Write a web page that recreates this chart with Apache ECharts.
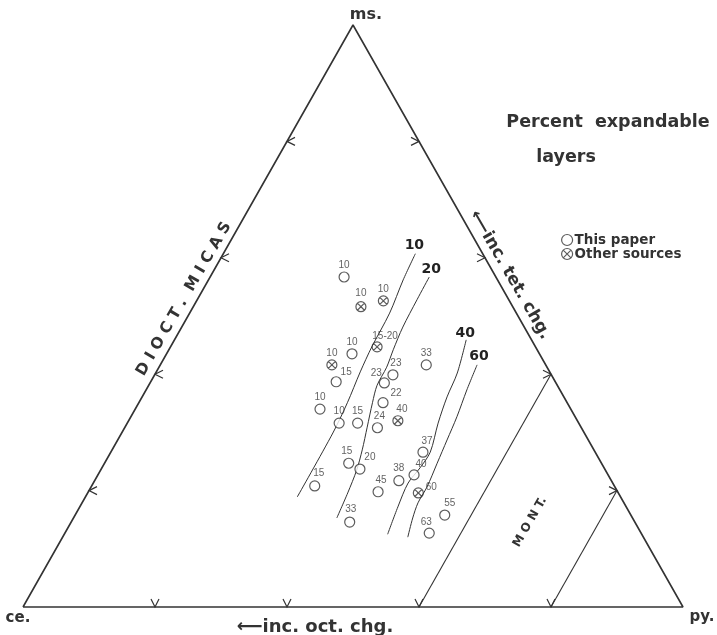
<!DOCTYPE html>
<html>
<head>
<meta charset="utf-8">
<script src="https://cdn.jsdelivr.net/npm/echarts@6/dist/echarts.min.js"></script>
<style>
html,body{margin:0;padding:0;background:#fff;}
#chart{width:717px;height:635px;}
</style>
</head>
<body>
<div id="chart"></div>
<script>
// all compositions are ternary percents [ms, ce, py]
const vertices = [[0,100,0],[0,0,100],[100,0,0],[0,100,0]];
const sideTicks = [20,40,60,80];
const montLine60 = [[0,40,60],[40,0,60]];
const montLine80 = [[0,20,80],[20,0,80]];

// percent expandable layers contours, top -> bottom
const contourNames = ['10','20','40','60'];
const contour10 = [[60.7,10.2,29.1],[56.2,14.3,29.5],[50.5,19.2,30.3],[44.7,24.8,30.5],[40.4,28.7,30.9],[35.1,33.4,31.6],[29.9,38.1,32.0],[18.9,49.0,32.1]];
const contour20 = [[56.7,10.1,33.2],[52.8,13.9,33.3],[48.1,18.4,33.5],[44.2,21.8,34.0],[41.2,24.3,34.5],[38.1,27.3,34.6],[35.1,29.6,35.4],[30.9,32.4,36.7],[27.0,35.1,37.9],[23.5,37.7,38.8],[19.6,41.0,39.4],[15.3,44.8,39.9]];
const contour40 = [[45.9,9.9,44.2],[40.2,14.1,45.7],[36.1,17.7,46.2],[31.6,21.3,47.1],[26.6,25.0,48.4],[23.9,27.9,48.2],[21.3,31.0,47.7],[17.2,34.6,48.2],[12.5,38.5,49.0]];
const contour60 = [[41.6,10.4,48.0],[37.3,14.1,48.6],[32.7,17.9,49.4],[28.7,21.4,49.9],[24.7,24.9,50.4],[20.6,28.5,50.9],[17.9,31.2,50.9],[15.3,33.3,51.4],[12.0,35.7,52.3]];

// samples, this paper
const thisPaper = [[56.7,23.0,20.3],[43.5,28.4,28.1],[38.7,33.2,28.1],[39.9,24.0,36.1],[38.5,26.0,35.5],[41.6,18.1,40.3],[34.0,38.0,28.0],[31.6,36.3,32.1],[31.6,33.5,34.9],[35.1,27.9,37.0],[30.8,30.9,38.3],[26.6,26.1,47.3],[24.7,38.3,37.0],[23.7,37.1,39.2],[20.8,45.4,33.8],[19.8,36.3,43.9],[21.7,32.2,46.1],[22.7,29.4,47.9],[15.8,28.2,56.0],[14.6,43.2,42.2],[12.7,32.1,55.2]];
const thisPaperPct = ['10','10','15','23','23','33','10','10','15','22','24','37','15','20','15','45','38','40','55','33','63'];
// samples, other sources
const otherSources = [[51.6,23.0,25.4],[52.6,19.1,28.3],[44.7,24.0,31.3],[41.6,32.4,26.0],[32.0,27.2,40.8],[19.6,30.3,50.1]];
const otherSourcesPct = ['10','10','15-20','10','40','60'];

// label offsets (px)
const thisPaperLabelOffset = {2:[10,-10],3:[3,-12],4:[-8,-10],9:[13,-9],10:[2,-11],11:[4,-11],12:[-2,-12],13:[10,-12],14:[4,-13],15:[3,-12],17:[7,-11],18:[5,-12],19:[1,-13],20:[-3,-11]};
const otherLabelOffset = [[0,-13],[0,-12],[8,-11],[0,-12],[4,-12],[13,-6]];
const contourLabelOffset = [[-1,0],[2,0],[-1,1],[2,-1]];

const ink = '#333';
const toXY = p => [p[2] + p[0] / 2, p[0]];

let chartObj = echarts.init(document.getElementById('chart'));

let tickData = [];
sideTicks.forEach(t => {
	tickData.push(toXY([0, 100 - t, t]).concat(0));	// base, ce-py
	tickData.push(toXY([t, 100 - t, 0]).concat(1));	// left, ce-ms
	tickData.push(toXY([t, 0, 100 - t]).concat(2));	// right, ms-py
});

function lineSeries(name, pts, width, smooth){
	return {
		name: name,
		type: 'line',
		data: pts.map(toXY),
		symbol: 'none',
		smooth: smooth || false,
		silent: true,
		clip: false,
		lineStyle: { color: ink, width: width },
		z: 2
	};
}

const contours = [contour10, contour20, contour40, contour60];
let seriesData = [
	lineSeries('frame', vertices, 1.6),
	lineSeries('mont60', montLine60, 1.1),
	lineSeries('mont80', montLine80, 1.1),
	{
		type: 'custom',
		silent: true,
		clip: false,
		data: tickData,
		renderItem: function(params, api){
			const p = api.coord([api.value(0), api.value(1)]);
			const d = api.value(2);
			let pts;
			if (d === 0) pts = [[p[0]-4, p[1]-8], p, [p[0]+4, p[1]-8]];
			else if (d === 1) pts = [[p[0]+8, p[1]-4], p, [p[0]+8, p[1]+4]];
			else pts = [[p[0]-8, p[1]-4], p, [p[0]-8, p[1]+4]];
			return { type: 'polyline', shape: { points: pts }, style: { stroke: ink, lineWidth: 1.2, fill: null } };
		}
	}
];
contours.forEach((c, i) => {
	seriesData.push(lineSeries('c' + contourNames[i], c, 1, 0.3));
});
seriesData.push({
	type: 'scatter',
	silent: true,
	symbolSize: 0,
	itemStyle: { color: '#222', opacity: 1 },
	data: contours.map((c, i) => ({
		name: contourNames[i],
		value: toXY(c[0]),
		label: { offset: contourLabelOffset[i] }
	})),
	label: {
		show: true, position: 'top', distance: 1, formatter: '{b}',
		fontFamily: 'DejaVu Sans', fontWeight: 'bold', fontSize: 14, color: '#222'
	}
});
const labelStyle = {
	show: true, position: 'inside', formatter: '{b}',
	fontFamily: 'Liberation Sans', fontSize: 10, color: '#3a3a3a'
};
seriesData.push({
	name: 'This paper',
	type: 'scatter',
	symbol: 'circle',
	symbolSize: 10,
	itemStyle: { color: '#fff', borderColor: ink, borderWidth: 1.2 },
	data: thisPaper.map((p, i) => ({
		name: thisPaperPct[i],
		value: toXY(p),
		label: { offset: thisPaperLabelOffset[i] || [0, -12] }
	})),
	label: labelStyle,
	z: 4
});
const crossCircle = 'path://M0,10A10,10,0,1,1,20,10A10,10,0,1,1,0,10ZM2.93,2.93L17.07,17.07M17.07,2.93L2.93,17.07';
seriesData.push({
	name: 'Other sources',
	type: 'scatter',
	symbol: crossCircle,
	symbolSize: 10,
	itemStyle: { color: 'rgba(255,255,255,0)', borderColor: ink, borderWidth: 1.2 },
	data: otherSources.map((p, i) => ({
		name: otherSourcesPct[i],
		value: toXY(p),
		label: { offset: otherLabelOffset[i] }
	})),
	label: labelStyle,
	z: 4
});

const boldFont = (size) => 'bold ' + size + 'px "DejaVu Sans"';
function txt(text, x, y, size, rot){
	return {
		type: 'text', x: x, y: y, rotation: rot || 0, silent: true,
		style: { text: text, font: boldFont(size), fill: ink, align: 'center', verticalAlign: 'middle' }
	};
}

let option = {
	animation: false,
	backgroundColor: '#fff',
	grid: { left: 23, right: 34, top: 25, bottom: 28 },
	xAxis: { type: 'value', min: 0, max: 100, show: false },
	yAxis: { type: 'value', min: 0, max: 100, show: false },
	legend: {
		orient: 'vertical',
		left: 556,
		top: 228,
		itemWidth: 11,
		itemHeight: 11,
		itemGap: 0,
		textStyle: { fontFamily: 'DejaVu Sans', fontWeight: 'bold', fontSize: 13.5, lineHeight: 13, color: ink, padding: [0,0,0,-3] },
		data: [
			{ name: 'This paper', icon: 'circle', itemStyle: { color: '#fff', borderColor: ink, borderWidth: 1.2 } },
			{ name: 'Other sources', icon: crossCircle, itemStyle: { color: 'rgba(255,255,255,0)', borderColor: ink, borderWidth: 1.2 } }
		]
	},
	graphic: [
		txt('ms.', 366, 15, 16),
		txt('ce.', 18, 618, 15),
		txt('py.', 702, 617, 15),
		txt('\u27f5inc. oct. chg.', 315, 627, 18),
		txt('D I O C T .  M I C A S', 184, 299, 15.5, Math.PI / 3),
		txt('\u27f5inc. tet. chg.', 510, 275, 17, -Math.PI / 3),
		txt('M O N T.', 530, 522, 12, Math.PI / 3),
		txt('Percent  expandable', 608, 122, 17.5),
		txt('layers', 566, 157, 17.5)
	],
	series: seriesData
};
option && chartObj.setOption(option);
</script>
</body>
</html>
